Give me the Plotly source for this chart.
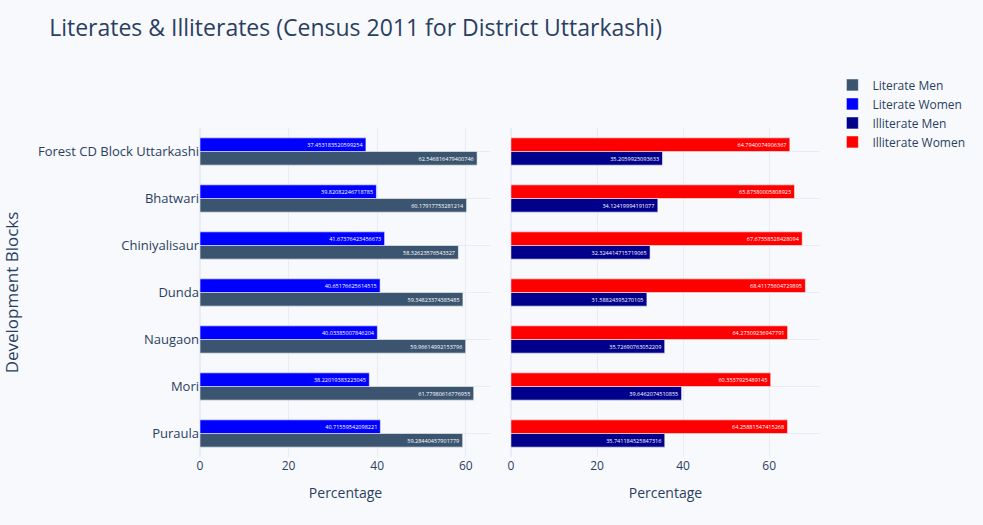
import plotly.graph_objects as go
from plotly.subplots import make_subplots

blocks = ["Puraula", "Mori", "Naugaon", "Dunda", "Chiniyalisaur", "Bhatwari", "Forest CD Block Uttarkashi"]
literate_men = [59.28440457901779, 61.77980616776955, 59.96614992153796, 59.34823374385485,
                58.32623576543327, 60.17917753281214, 62.546816479400746]
literate_women = [40.71559542098221, 38.22019383223045, 40.03385007846204, 40.65176625614515,
                  41.67376423456673, 39.82082246718785, 37.453183520599254]
illiterate_men = [35.741184525847316, 39.6462074510855, 35.72690763052209, 31.58824395270105,
                  32.324414715719065, 34.12419994191077, 35.2059925093633]
illiterate_women = [64.25881547415268, 60.3537925489145, 64.27309236947791, 68.41175604729895,
                    67.67558528428094, 65.87580005808923, 64.7940074906367]

fig = make_subplots(rows=1, cols=2, shared_yaxes=True, horizontal_spacing=0.032,
                    column_widths=[0.469, 0.498])

def add(vals, name, color, col):
    fig.add_trace(go.Bar(
        y=blocks, x=vals, name=name, orientation="h",
        text=[str(v) for v in vals], textposition="inside", insidetextanchor="end",
        textfont=dict(color="white", size=8),
        marker=dict(color=color, line=dict(color="rgba(255,255,255,0.55)", width=1)),
    ), row=1, col=col)

add(literate_men, "Literate Men", "#3b5570", 1)
add(literate_women, "Literate Women", "#0000ff", 1)
add(illiterate_men, "Illiterate Men", "#00008b", 2)
add(illiterate_women, "Illiterate Women", "#ff0000", 2)

bg = "#f8f9fd"
grid = "#e9ecf4"
fig.update_layout(
    width=983, height=525,
    barmode="group", bargap=0.42,
    paper_bgcolor=bg, plot_bgcolor=bg,
    font=dict(family="Open Sans", color="#2a3f5f", size=12),
    title=dict(text="Literates & Illiterates (Census 2011 for District Uttarkashi)",
               x=0.05, xanchor="left", y=1 - 28 / 525, yanchor="middle",
               font=dict(size=23, color="#2a3f5f")),
    margin=dict(l=200, r=163, t=128, b=68, autoexpand=False),
    legend=dict(x=1.02, y=1.175, yanchor="top", xanchor="left", font=dict(size=12)),
    uniformtext=dict(minsize=1),
)
fig.update_xaxes(title_text="Percentage", title_font=dict(size=14), gridcolor=grid,
                 zerolinecolor=grid, tickfont=dict(size=12), automargin=False)
fig.update_xaxes(range=[0, 65.7], row=1, col=1)
fig.update_xaxes(range=[0, 71.8], row=1, col=2)
fig.update_yaxes(gridcolor=grid, tickfont=dict(size=13), automargin=False)
fig.update_yaxes(title_text="Development Blocks", title_font=dict(size=17), title_standoff=16,
                 row=1, col=1)

fig.write_html("out.html", config={"displayModeBar": False},
               post_script="document.body.style.margin='0';document.body.style.overflow='hidden';")
